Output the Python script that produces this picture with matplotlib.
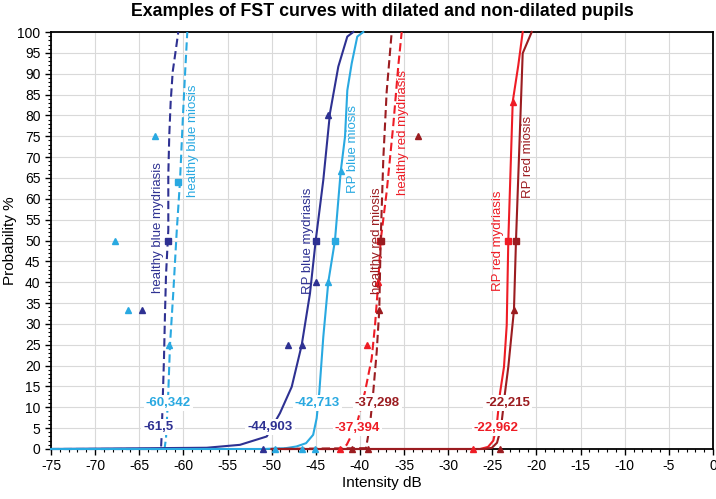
import matplotlib
matplotlib.use("Agg")
import matplotlib.pyplot as plt
from matplotlib.ticker import MultipleLocator

plt.rcParams['font.family'] = ['Liberation Sans', 'DejaVu Sans']
plt.rcParams['axes.unicode_minus'] = False

# ---------------- data ----------------
# healthy blue mydriasis (dark blue, dashed)
hbmy_x = [-75, -66.3, -64.7, -62.54, -62.46, -62.35, -62.20, -62.09, -61.97, -61.71, -61.71, -61.60, -61.44, -61.21, -60.84, -60.58]
hbmy_p = [0, 0, 0, 0, 3.4, 11.3, 21.7, 32.1, 41.7, 52.5, 65.7, 75.3, 83.3, 90.5, 96, 100]
hbmy_tri_x = [-64.66]
hbmy_tri_p = [33.3]
hbmy_sq_x = [-61.71]
hbmy_sq_p = [50]

# healthy blue miosis (light blue, dashed)
hbmi_x = [-75, -62.14, -61.97, -61.71, -61.52, -61.14, -60.76, -60.39, -60.01, -59.82, -59.56]
hbmi_p = [0, 0, 2.6, 13.7, 24.9, 37.7, 52.1, 64.1, 81.7, 89.7, 100]
hbmi_tri_x = [-63.22, -67.75, -66.24, -61.60]
hbmi_tri_p = [75, 50, 33.3, 25]
hbmi_sq_x = [-60.65]
hbmi_sq_p = [64]

# RP blue mydriasis (dark blue, solid)
rbmy_x = [-75, -57.36, -53.59, -50.56, -49.06, -47.73, -46.60, -45.66, -45.01, -44.15, -43.39, -42.45, -41.43, -40.75]
rbmy_p = [0, 0.3, 1.0, 3.0, 8.6, 14.9, 24.9, 37.3, 50, 64.5, 80.6, 91.7, 98.9, 100]
rbmy_tri_x = [-43.58, -45.01, -46.53, -48.12, -50.95]
rbmy_tri_p = [80, 40, 25, 25, 0]
rbmy_sq_x = [-45.01]
rbmy_sq_p = [50]

# RP blue miosis (light blue, solid)
rbmi_x = [-75, -51.0, -48.4, -47.2, -46.1, -45.3, -44.90, -44.60, -44.15, -43.58, -42.83, -42.18, -41.69, -41.43, -40.93, -40.30, -39.62]
rbmi_p = [0, 0, 0.2, 0.6, 1.4, 3.4, 7.4, 13.7, 26.9, 40.1, 50, 66.5, 74.9, 86, 92.5, 98.9, 100]
rbmi_tri_x = [-42.18, -43.58, -49.62, -46.60, -45.09]
rbmi_tri_p = [66.7, 40, 0, 0, 0]
rbmi_sq_x = [-42.83]
rbmi_sq_p = [50]

# healthy red mydriasis (bright red, dashed)
hrmy_x = [-50, -42.26, -41.50, -40.37, -39.43, -38.67, -38.29, -37.92, -37.65, -36.97, -36.22, -35.65, -35.27]
hrmy_p = [0, 0, 1.0, 5.8, 13.7, 21.7, 29.7, 40, 50, 61.7, 77.7, 92, 100]
hrmy_tri_x = [-39.17, -37.92, -42.26]
hrmy_tri_p = [25, 40, 0]
hrmy_sq_x = [-37.75]
hrmy_sq_p = [50]

# healthy red miosis (dark red, dashed)
hrmi_x = [-50, -39.31, -38.86, -38.49, -38.10, -37.81, -37.65, -37.35, -36.97, -36.40]
hrmi_p = [0, 0.2, 5.8, 13.7, 23.3, 33.3, 50, 69.7, 85.7, 100]
hrmi_tri_x = [-37.81, -33.39, -40.93, -39.05]
hrmi_tri_p = [33.3, 75, 0, 0]
hrmi_sq_x = [-37.65]
hrmi_sq_p = [50]

# RP red mydriasis (bright red, solid)
rrmy_x = [-50, -26.40, -25.49, -24.89, -24.51, -24.13, -23.68, -23.37, -23.19, -22.69, -22.06, -21.56]
rrmy_p = [0, 0, 0.5, 2.0, 5.5, 13.4, 19.7, 29.7, 50, 83.3, 92, 100]
rrmy_tri_x = [-22.69, -27.16]
rrmy_tri_p = [83.3, 0]
rrmy_sq_x = [-23.19]
rrmy_sq_p = [50]

# RP red miosis (dark red, solid)
rrmi_x = [-50, -25.83, -25.04, -24.47, -24.02, -23.57, -23.19, -22.55, -22.32, -21.56, -20.54]
rrmi_p = [0, 0, 0.3, 1.5, 5.0, 13.4, 19.7, 33.3, 50, 94.9, 100]
rrmi_tri_x = [-22.55, -24.13]
rrmi_tri_p = [33.3, 0]
rrmi_sq_x = [-22.32]
rrmi_sq_p = [50]

curve_names = ["healthy blue mydriasis", "healthy blue miosis", "RP blue mydriasis", "RP blue miosis",
               "healthy red miosis", "healthy red mydriasis", "RP red mydriasis", "RP red miosis"]
threshold_labels = ["-61,5", "-60,342", "-44,903", "-42,713", "-37,298", "-37,394", "-22,215", "-22,962"]

DARKBLUE = "#2E3192"
LIGHTBLUE = "#29A9E1"
DARKRED = "#9B1C20"
RED = "#EE1C25"

fig = plt.figure(figsize=(7.16, 4.99), dpi=100)
ax = fig.add_axes([51/716, 1-449/499, 662/716, 417/499])

series = [
    (hbmy_x, hbmy_p, hbmy_tri_x, hbmy_tri_p, hbmy_sq_x, hbmy_sq_p, DARKBLUE, (0, (4, 2))),
    (hbmi_x, hbmi_p, hbmi_tri_x, hbmi_tri_p, hbmi_sq_x, hbmi_sq_p, LIGHTBLUE, (0, (4, 2))),
    (rbmy_x, rbmy_p, rbmy_tri_x, rbmy_tri_p, rbmy_sq_x, rbmy_sq_p, DARKBLUE, '-'),
    (rbmi_x, rbmi_p, rbmi_tri_x, rbmi_tri_p, rbmi_sq_x, rbmi_sq_p, LIGHTBLUE, '-'),
    (hrmy_x, hrmy_p, hrmy_tri_x, hrmy_tri_p, hrmy_sq_x, hrmy_sq_p, RED, (0, (4, 2))),
    (hrmi_x, hrmi_p, hrmi_tri_x, hrmi_tri_p, hrmi_sq_x, hrmi_sq_p, DARKRED, (0, (4, 2))),
    (rrmy_x, rrmy_p, rrmy_tri_x, rrmy_tri_p, rrmy_sq_x, rrmy_sq_p, RED, '-'),
    (rrmi_x, rrmi_p, rrmi_tri_x, rrmi_tri_p, rrmi_sq_x, rrmi_sq_p, DARKRED, '-'),
]

for cx, cp, tx, tp, sx, sp, col, ls in series:
    ax.plot(cx, cp, color=col, lw=1.5, ls=ls, zorder=3, clip_on=False)
    ax.plot(tx, tp, ls='none', marker='^', ms=4.3, color=col, zorder=4, clip_on=False)
    ax.plot(sx, sp, ls='none', marker='s', ms=4.8, color=col, zorder=4, clip_on=False)

# rotated curve labels (data coords)
label_pos = [(-62.9, 53), (-58.9, 74), (-45.9, 50), (-40.8, 72),
             (-38.1, 50), (-35.1, 76), (-24.4, 50), (-21.0, 70)]
label_cols = [DARKBLUE, LIGHTBLUE, DARKBLUE, LIGHTBLUE, DARKRED, RED, RED, DARKRED]
for name, (lx, ly), col in zip(curve_names, label_pos, label_cols):
    ax.text(lx, ly, name, rotation=90, color=col, fontsize=9.5,
            ha='center', va='center', zorder=5)

# threshold value labels
thr_pos = [(-62.84, 5.3), (-61.71, 11.0), (-50.19, 5.3), (-44.81, 11.0),
           (-38.01, 11.0), (-40.28, 5.0), (-23.28, 11.0), (-24.59, 5.0)]
thr_cols = [DARKBLUE, LIGHTBLUE, DARKBLUE, LIGHTBLUE, DARKRED, RED, DARKRED, RED]
for t, (tx_, ty_), col in zip(threshold_labels, thr_pos, thr_cols):
    ax.text(tx_, ty_, t, color=col, fontsize=9.5, fontweight='bold',
            ha='center', va='center', zorder=6,
            bbox=dict(boxstyle='square,pad=0.15', fc='white', ec='none'))

ax.set_xlim(-75, 0)
ax.set_ylim(0, 100)
ax.xaxis.set_major_locator(MultipleLocator(5))
ax.xaxis.set_minor_locator(MultipleLocator(1))
ax.yaxis.set_major_locator(MultipleLocator(5))
ax.yaxis.set_minor_locator(MultipleLocator(1))
ax.grid(which='major', color='#D9D9D9', lw=0.8, zorder=0)
ax.set_axisbelow(True)
ax.tick_params(which='major', direction='out', length=4, width=1, labelsize=10, colors='black')
ax.tick_params(which='minor', direction='out', length=2.5, width=0.8)
for s in ax.spines.values():
    s.set_color('black')
    s.set_linewidth(1.3)

fig.text(382/716, 1-483/499, "Intensity dB", fontsize=11, ha='center', va='center')
fig.text(10/716, 1-240.5/499, "Probability %", fontsize=11, rotation=90, ha='center', va='center')
fig.text(382/716, 1-11/499, "Examples of FST curves with dilated and non-dilated pupils",
         ha='center', va='center', fontsize=12.8, fontweight='bold')

fig.savefig("out.png", dpi=100)
